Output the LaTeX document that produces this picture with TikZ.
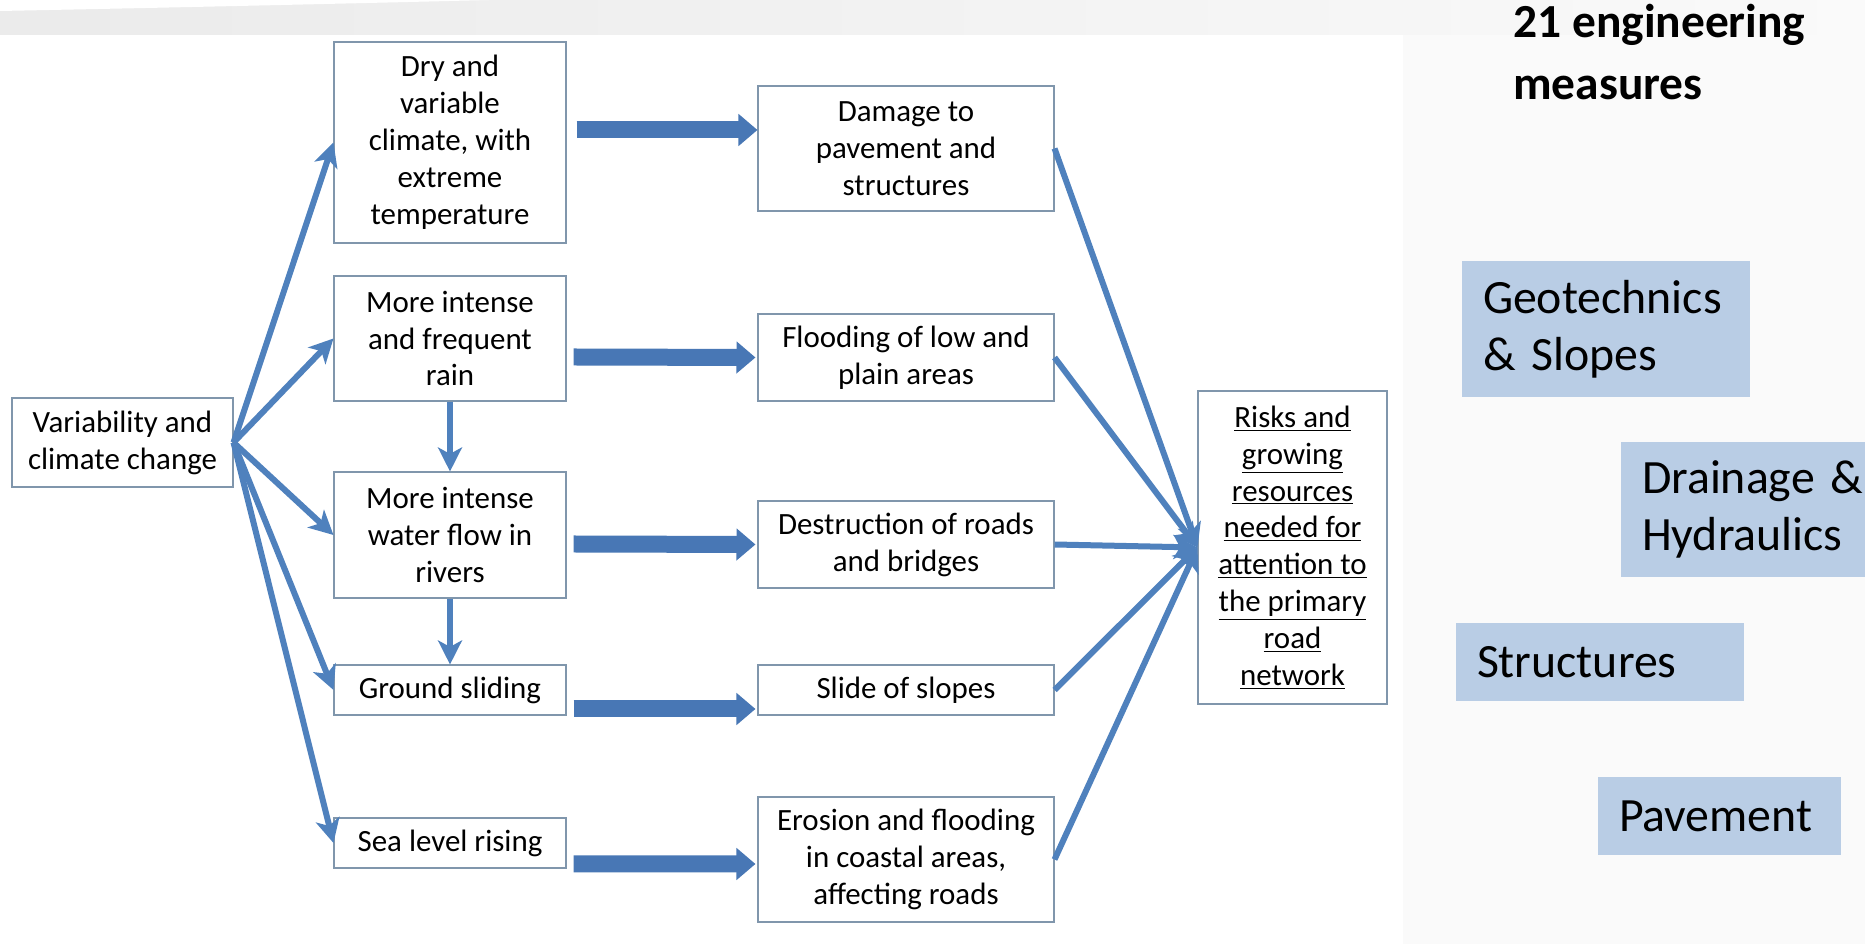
\documentclass[tikz,border=0pt]{standalone}
\usepackage{fontspec}
\setmainfont{Carlito}
\usetikzlibrary{arrows.meta,positioning,calc}
\definecolor{flowblue}{RGB}{79,129,189}
\definecolor{blockblue}{RGB}{72,119,181}
\definecolor{boxline}{RGB}{128,150,172}
\definecolor{measurefill}{RGB}{185,205,229}
\definecolor{slidebg}{RGB}{250,250,250}

\begin{document}
\begin{tikzpicture}[
    box/.style={rectangle, draw=boxline, line width=0.6pt, fill=white, align=center, inner sep=2pt, font=\fontsize{17.6}{21}\selectfont},
    measure/.style={rectangle, fill=measurefill, align=left, inner xsep=0.42cm, inner ysep=0pt, font=\fontsize{27.2}{32.3}\selectfont},
    arrow/.style={draw=flowblue, line width=0.12cm, -{Stealth[length=0.48cm, width=0.48cm, inset=0.13cm]}},
    bigarrow/.style={draw=blockblue, line width=0.34cm, -{Triangle[length=0.38cm, width=0.62cm]}}
]

% Background
\useasboundingbox (0,0) rectangle (37.3,18.88);
\fill[slidebg] (0,0) rectangle (37.3,18.88);
\shade[left color=gray!16, right color=gray!4] (0,18.18) rectangle (37.3,18.88);
\fill[white] (0,18.88) -- (9.8,18.88) .. controls (5,18.76) and (2,18.7) .. (0,18.66) -- cycle;
\fill[white] (0,0) rectangle (28.06,18.18);

% Cause
\node[box, minimum width=4.42cm, minimum height=1.78cm] (var) at (2.45,10.03) {Variability and\\climate change};

% Effects
\node[box, minimum width=4.64cm, minimum height=4.02cm] (dry) at (9.0,16.03) {Dry and\\variable\\climate, with\\extreme\\temperature};
\node[box, minimum width=4.64cm, minimum height=2.5cm] (rain) at (9.0,12.11) {More intense\\and frequent\\rain};
\node[box, minimum width=4.64cm, minimum height=2.52cm] (water) at (9.0,8.18) {More intense\\water flow in\\rivers};
\node[box, minimum width=4.64cm, minimum height=1.0cm] (ground) at (9.0,5.08) {Ground sliding};
\node[box, minimum width=4.64cm, minimum height=1.0cm] (sea) at (9.0,2.02) {Sea level rising};

% Impacts
\node[box, minimum width=5.92cm, minimum height=2.5cm] (damage) at (18.12,15.91) {Damage to\\pavement and\\structures};
\node[box, minimum width=5.92cm, minimum height=1.74cm] (flooding) at (18.12,11.73) {Flooding of low and\\plain areas};
\node[box, minimum width=5.92cm, minimum height=1.74cm] (destruction) at (18.12,7.99) {Destruction of roads\\and bridges};
\node[box, minimum width=5.92cm, minimum height=1.0cm] (slide) at (18.12,5.08) {Slide of slopes};
\node[box, minimum width=5.92cm, minimum height=2.5cm] (erosion) at (18.12,1.69) {Erosion and flooding\\in coastal areas,\\affecting roads};

% Result
\node[box, minimum width=3.78cm, minimum height=6.26cm] (risks) at (25.85,7.93) {\underline{Risks and}\\\underline{growing}\\\underline{resources}\\\underline{needed for}\\\underline{attention to}\\\underline{the primary}\\\underline{road}\\\underline{network}};

% Arrows - cause to effects
\draw[arrow] (var.east) -- (dry.west);
\draw[arrow] (var.east) -- (rain.west);
\draw[arrow] (var.east) -- (water.west);
\draw[arrow] (var.east) -- (ground.west);
\draw[arrow] (var.east) -- (sea.west);
\draw[arrow] (rain.south) -- (water.north);
\draw[arrow] (water.south) -- (ground.north);

% Arrows - effects to impacts
\draw[bigarrow] ([xshift=0.2cm, yshift=0.25cm]dry.east) -- ([yshift=0.37cm]damage.west);
\draw[bigarrow] ([xshift=0.14cm, yshift=-0.37cm]rain.east) -- ([xshift=-0.04cm]flooding.west);
\draw[bigarrow] ([xshift=0.14cm, yshift=-0.18cm]water.east) -- ([xshift=-0.04cm]destruction.west);
\draw[bigarrow] ([xshift=0.14cm, yshift=-0.38cm]ground.east) -- ([xshift=-0.04cm, yshift=-0.38cm]slide.west);
\draw[bigarrow] ([xshift=0.14cm, yshift=-0.42cm]sea.east) -- ([xshift=-0.04cm, yshift=-0.09cm]erosion.west);

% Arrows - impacts to result
\draw[arrow] (damage.east) -- (risks.west);
\draw[arrow] (flooding.east) -- (risks.west);
\draw[arrow] (destruction.east) -- (risks.west);
\draw[arrow] (slide.east) -- (risks.west);
\draw[arrow] (erosion.east) -- (risks.west);

% Right side - measures
\node[font=\fontsize{27}{35.7}\selectfont\bfseries, align=left, anchor=base west, inner sep=0pt] (title) at (30.26,16.88) {21 engineering\\measures};
\node[measure, text width=4.92cm, minimum height=2.72cm] (geo) at (32.12,12.30) {Geotechnics\\\& Slopes};
\node[measure, text width=5.0cm, minimum height=2.7cm] (drain) at (35.34,8.69) {Drainage \&\\Hydraulics};
\node[measure, text width=4.92cm, minimum height=1.56cm] (struct) at (32.0,5.64) {Structures};
\node[measure, text width=4.02cm, minimum height=1.56cm] (pave) at (34.39,2.56) {Pavement};

\end{tikzpicture}
\end{document}
